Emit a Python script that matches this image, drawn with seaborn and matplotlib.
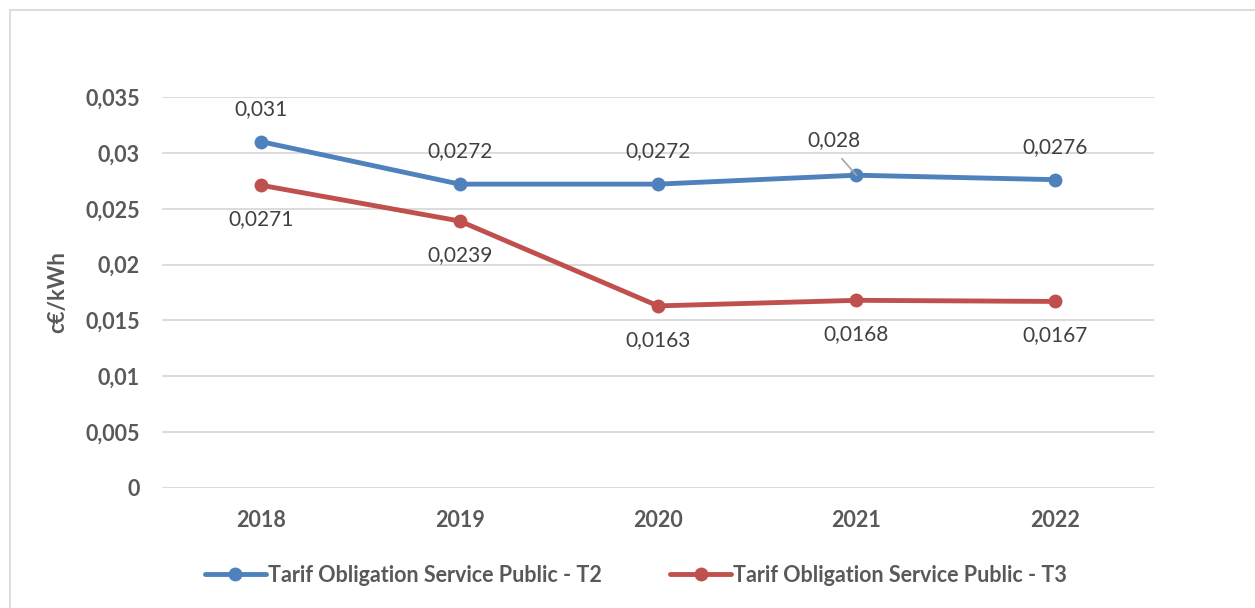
import matplotlib
matplotlib.use("Agg")
import matplotlib.pyplot as plt
from matplotlib.lines import Line2D
from matplotlib.ticker import FuncFormatter, MultipleLocator
import pandas as pd
import seaborn as sns

years = ["2018", "2019", "2020", "2021", "2022"]
t2_values = [0.031, 0.0272, 0.0272, 0.028, 0.0276]
t3_values = [0.0271, 0.0239, 0.0163, 0.0168, 0.0167]
series_names = ["Tarif Obligation Service Public - T2", "Tarif Obligation Service Public - T3"]
y_label = "c€/kWh"

BLUE = "#4F81BD"
RED = "#C0504D"
TEXT = "#595959"
GRID = "#D9D9D9"


def comma(v, _pos=None):
    return f"{v:g}".replace(".", ",")


df = pd.DataFrame({
    "year": years * 2,
    "value": t2_values + t3_values,
    "series": [series_names[0]] * len(years) + [series_names[1]] * len(years),
})

sns.set_style("white")
plt.rcParams["font.family"] = ["Lato", "DejaVu Sans"]

fig = plt.figure(figsize=(12.55, 6.08), dpi=100)
ax = fig.add_axes([162 / 1255, 1 - 488 / 608, 992 / 1255, 391 / 608])

sns.lineplot(
    data=df, x="year", y="value", hue="series", palette=[BLUE, RED],
    marker="o", markersize=10, markeredgewidth=0, linewidth=3.5,
    sort=False, legend=False, ax=ax,
)

ax.set_xlim(-0.5, len(years) - 0.5)
ax.set_ylim(0, 0.035)
ax.yaxis.set_major_locator(MultipleLocator(0.005))
ax.yaxis.set_major_formatter(FuncFormatter(comma))
ax.grid(axis="y", color=GRID, linewidth=1.3)
ax.set_axisbelow(True)
for s in ax.spines.values():
    s.set_visible(False)
ax.tick_params(axis="both", length=0, labelsize=15.5, labelcolor=TEXT)
ax.tick_params(axis="y", pad=16)
ax.tick_params(axis="x", pad=16)
for lbl in ax.get_xticklabels() + ax.get_yticklabels():
    lbl.set_fontweight("bold")
ax.set_xlabel("")
ax.set_ylabel(y_label, fontsize=16, fontweight="bold", color=TEXT, labelpad=12)

# data labels: T2 above, T3 below
for i, v in enumerate(t2_values):
    if years[i] == "2021":
        ax.annotate(comma(v), xy=(i, v), xytext=(-22, 35), textcoords="offset pixels",
                    ha="center", va="center", fontsize=15, color="#404040",
                    arrowprops=dict(arrowstyle="-", color="#A6A6A6", lw=1.2,
                                    relpos=(0.5, 0.0), shrinkA=5, shrinkB=0))
    else:
        ax.annotate(comma(v), xy=(i, v), xytext=(0, 33), textcoords="offset pixels",
                    ha="center", va="center", fontsize=15, color="#404040")
for i, v in enumerate(t3_values):
    ax.annotate(comma(v), xy=(i, v), xytext=(0, -34), textcoords="offset pixels",
                ha="center", va="center", fontsize=15, color="#404040")

handles = [
    Line2D([], [], color=BLUE, marker="o", markersize=10, markeredgewidth=0, linewidth=3.5),
    Line2D([], [], color=RED, marker="o", markersize=10, markeredgewidth=0, linewidth=3.5),
]
leg = fig.legend(handles, series_names, loc="center", bbox_to_anchor=(636 / 1255, 1 - 575 / 608),
                 ncol=2, frameon=False, handlelength=2.8, handletextpad=0.1, columnspacing=3.2,
                 prop={"size": 15.5, "weight": "bold"})
for t in leg.get_texts():
    t.set_color(TEXT)

# chart area border (left and top edges visible)
fig.add_artist(Line2D([9.5 / 1255, 9.5 / 1255], [0, 1 - 10 / 608], transform=fig.transFigure,
                      color=GRID, linewidth=1.3))
fig.add_artist(Line2D([9.5 / 1255, 1], [1 - 10 / 608, 1 - 10 / 608], transform=fig.transFigure,
                      color=GRID, linewidth=1.3))

fig.savefig("out.png", dpi=100)
